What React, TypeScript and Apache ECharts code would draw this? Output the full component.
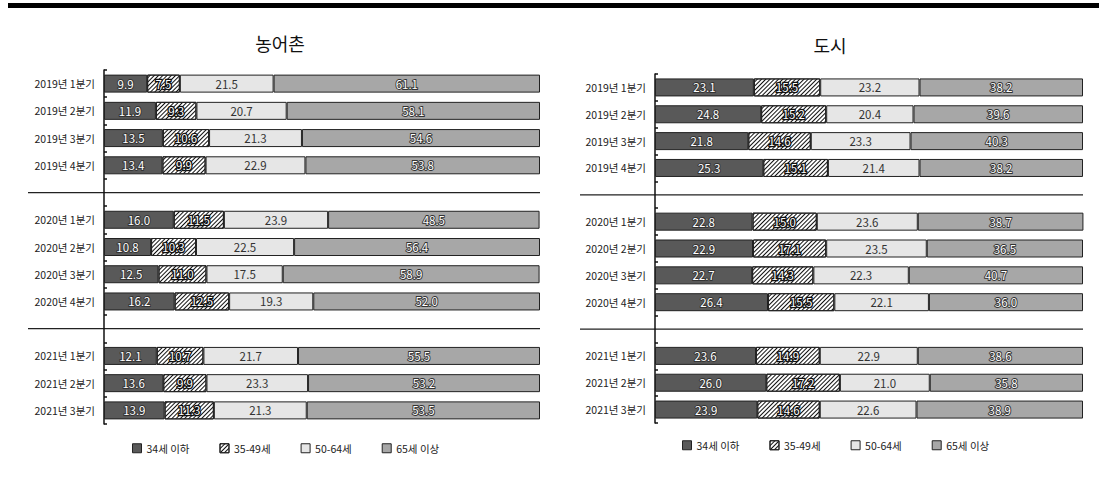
import React, { useEffect, useRef } from 'react';
import * as echarts from 'echarts';

const categories = [
  '2019년 1분기', '2019년 2분기', '2019년 3분기', '2019년 4분기', '',
  '2020년 1분기', '2020년 2분기', '2020년 3분기', '2020년 4분기', '',
  '2021년 1분기', '2021년 2분기', '2021년 3분기',
];
const separatorIndices = [4, 9];
const seriesNames = ['34세 이하', '35-49세', '50-64세', '65세 이상'];
const panelTitles = ['농어촌', '도시'];

// 농어촌
const ruralUnder34 = [9.9, 11.9, 13.5, 13.4, null, 16.0, 10.8, 12.5, 16.2, null, 12.1, 13.6, 13.9];
const rural35to49 = [7.5, 9.3, 10.6, 9.9, null, 11.5, 10.3, 11.0, 12.5, null, 10.7, 9.9, 11.3];
const rural50to64 = [21.5, 20.7, 21.3, 22.9, null, 23.9, 22.5, 17.5, 19.3, null, 21.7, 23.3, 21.3];
const rural65plus = [61.1, 58.1, 54.6, 53.8, null, 48.5, 56.4, 58.9, 52.0, null, 55.5, 53.2, 53.5];

// 도시
const cityUnder34 = [23.1, 24.8, 21.8, 25.3, null, 22.8, 22.9, 22.7, 26.4, null, 23.6, 26.0, 23.9];
const city35to49 = [15.5, 15.2, 14.6, 15.1, null, 15.0, 17.1, 14.3, 15.5, null, 14.9, 17.2, 14.6];
const city50to64 = [23.2, 20.4, 23.3, 21.4, null, 23.6, 23.5, 22.3, 22.1, null, 22.9, 21.0, 22.6];
const city65plus = [38.2, 39.6, 40.3, 38.2, null, 38.7, 36.5, 40.7, 36.0, null, 38.6, 35.8, 38.9];

const ruralData = [ruralUnder34, rural35to49, rural50to64, rural65plus];
const cityData = [cityUnder34, city35to49, city50to64, city65plus];

const FONT = '"Noto Sans CJK KR", "Noto Sans", sans-serif';

export default function App() {
  const ref = useRef<HTMLDivElement>(null);
  useEffect(() => {
    const chart = echarts.init(ref.current!, null, { renderer: 'svg' });
    const hatch = {
      symbol: 'rect',
      symbolSize: 1,
      dashArrayX: [1, 0],
      dashArrayY: [1, 1.8],
      rotation: -Math.PI / 4,
      color: '#111',
      backgroundColor: '#ffffff',
    };
    const fills = ['#595959', '#ffffff', '#e6e6e6', '#a7a7a7'];
    const outlined = { color: '#ffffff', textBorderColor: '#333', textBorderWidth: 1.8 };
    const outlinedStrong = { color: '#ffffff', textBorderColor: '#111', textBorderWidth: 2.6 };
    const plain = { color: '#333' };
    const labelStyles = [outlined, outlinedStrong, plain, outlined];

    const makeSeries = (datasets: (number | null)[][], idx: number) =>
      datasets.map((d, i) => ({
        name: seriesNames[i],
        type: 'bar',
        stack: 'panel' + idx,
        xAxisIndex: idx,
        yAxisIndex: idx,
        barWidth: 18,
        data: d,
        itemStyle: {
          color: fills[i],
          borderColor: '#222',
          borderWidth: 1,
          ...(i === 1 ? { decal: hatch } : {}),
        },
        label: {
          show: true,
          position: 'inside',
          fontSize: 11.5,
          fontFamily: FONT,
          formatter: (p: any) => (p.value == null ? '' : Number(p.value).toFixed(1)),
          ...labelStyles[i],
        },
      }));

    const grids = [
      { left: 104, top: 70, width: 436, height: 354 },
      { left: 655, top: 74, width: 428, height: 349 },
    ];

    const yAxisBase = (gi: number) => ({
      type: 'category',
      gridIndex: gi,
      inverse: true,
      data: categories,
      axisLine: { show: true, lineStyle: { color: '#111', width: 1.5 } },
      axisTick: { show: true, inside: true, length: 3, lineStyle: { color: '#111', width: 1.5 } },
      axisLabel: { color: '#222', fontSize: 10.5, fontFamily: FONT, margin: 9 },
      splitLine: { show: false },
    });
    const xAxisBase = (gi: number) => ({
      type: 'value',
      gridIndex: gi,
      min: 0,
      max: 100,
      show: false,
    });

    const legendBase = (left: number, top: number) => ({
      data: seriesNames,
      left,
      top,
      icon: 'rect',
      itemWidth: 9,
      itemHeight: 9,
      itemGap: 30,
      itemStyle: { borderColor: '#222', borderWidth: 1 },
      textStyle: { fontSize: 10.5, color: '#222', fontFamily: FONT, padding: [0, 0, 0, 0] },
    });

    chart.setOption({
      animation: false,
      backgroundColor: '#ffffff',
      grid: grids,
      xAxis: [xAxisBase(0), xAxisBase(1)],
      yAxis: [yAxisBase(0), yAxisBase(1)],
      legend: [legendBase(127, 438), legendBase(677, 435)],
      series: [...makeSeries(ruralData, 0), ...makeSeries(cityData, 1)],
    });

    const sepSpans = [
      [28, 540],
      [580, 1083],
    ];
    const graphics: any[] = [
      { type: 'rect', shape: { x: 8, y: 3, width: 1091, height: 5 }, style: { fill: '#000' } },
      {
        type: 'text',
        x: 280,
        y: 43,
        style: { text: panelTitles[0], fontSize: 18, fontFamily: FONT, fill: '#111', align: 'center', verticalAlign: 'middle' },
      },
      {
        type: 'text',
        x: 830,
        y: 45,
        style: { text: panelTitles[1], fontSize: 18, fontFamily: FONT, fill: '#111', align: 'center', verticalAlign: 'middle' },
      },
    ];
    [0, 1].forEach((gi) => {
      separatorIndices.forEach((ci) => {
        const y = chart.convertToPixel({ yAxisIndex: gi } as any, ci) as unknown as number;
        graphics.push({
          type: 'line',
          shape: { x1: sepSpans[gi][0], y1: y, x2: sepSpans[gi][1], y2: y },
          style: { stroke: '#222', lineWidth: 1.2 },
        });
      });
    });
    chart.setOption({ graphic: graphics });

    return () => chart.dispose();
  }, []);

  return (
    <div
      ref={ref}
      style={{ position: 'absolute', left: 0, top: 0, width: 1099, height: 481 }}
    />
  );
}
